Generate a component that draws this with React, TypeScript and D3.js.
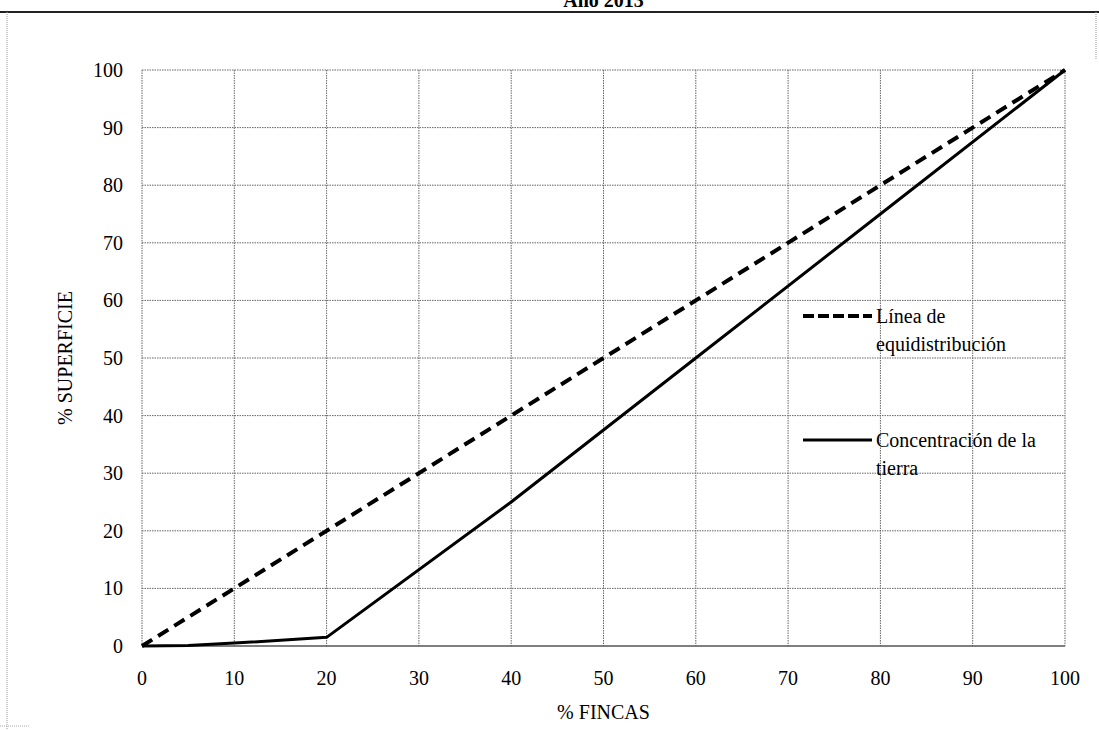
import { useEffect, useRef } from 'react';
import * as d3 from 'd3';

const fincas = [0, 5, 10, 20, 40, 60, 80, 100];
const superficie = [0, 0.1, 0.5, 1.5, 25, 50, 75, 100];
const equiX = [0, 100];
const equiY = [0, 100];
const ticks = [0, 10, 20, 30, 40, 50, 60, 70, 80, 90, 100];

const W = 1099;
const H = 730;
const FONT = '"Liberation Serif", "Times New Roman", serif';

export default function App() {
  const svgRef = useRef<SVGSVGElement>(null);

  useEffect(() => {
    if (!svgRef.current) return;
    const svg = d3.select(svgRef.current);
    svg.selectAll('*').remove();

    const m = { left: 142, right: 1065, top: 70, bottom: 646 };
    const x = d3.scaleLinear().domain([0, 100]).range([m.left, m.right]);
    const y = d3.scaleLinear().domain([0, 100]).range([m.bottom, m.top]);

    // outer frame (scan edges)
    svg.append('rect').attr('width', W).attr('height', H).attr('fill', '#fff');
    svg.append('line').attr('x1', 0).attr('x2', W).attr('y1', 12).attr('y2', 12)
      .attr('stroke', '#222').attr('stroke-width', 2);
    svg.append('line').attr('x1', 7).attr('x2', 7).attr('y1', 12).attr('y2', H)
      .attr('stroke', '#999').attr('stroke-dasharray', '1,1');
    svg.append('line').attr('x1', W - 3).attr('x2', W - 3).attr('y1', 12).attr('y2', 60)
      .attr('stroke', '#999').attr('stroke-dasharray', '1,1');
    svg.append('line').attr('x1', 0).attr('x2', 30).attr('y1', 726).attr('y2', 726)
      .attr('stroke', '#aaa').attr('stroke-dasharray', '1,1');

    // title (cut off at top, as in the scan)
    svg.append('text').attr('x', (m.left + m.right) / 2).attr('y', 7)
      .attr('text-anchor', 'middle').attr('font-family', FONT)
      .attr('font-weight', 'bold').attr('font-size', 20).text('Año 2013');

    // grid
    const grid = svg.append('g');
    grid.selectAll('.vg').data(ticks).enter().append('line')
      .attr('x1', (d) => x(d)).attr('x2', (d) => x(d))
      .attr('y1', m.top).attr('y2', m.bottom)
      .attr('stroke', '#666').attr('stroke-width', 1).attr('stroke-dasharray', '1.5,1');
    grid.selectAll('.hg').data(ticks.filter((d) => d > 0)).enter().append('line')
      .attr('x1', m.left).attr('x2', m.right)
      .attr('y1', (d) => y(d)).attr('y2', (d) => y(d))
      .attr('stroke', '#666').attr('stroke-width', 1).attr('stroke-dasharray', '1.5,1');
    svg.append('line').attr('x1', m.left).attr('x2', m.right)
      .attr('y1', y(0)).attr('y2', y(0)).attr('stroke', '#555').attr('stroke-width', 1.5);

    // tick labels
    svg.append('g').selectAll('text').data(ticks).enter().append('text')
      .attr('x', 123).attr('y', (d) => y(d)).attr('dy', '0.35em')
      .attr('text-anchor', 'end').attr('font-family', FONT).attr('font-size', 20)
      .text((d) => d);
    svg.append('g').selectAll('text').data(ticks).enter().append('text')
      .attr('x', (d) => x(d)).attr('y', 678).attr('dy', '0.35em')
      .attr('text-anchor', 'middle').attr('font-family', FONT).attr('font-size', 20)
      .text((d) => d);

    // axis titles
    svg.append('text').attr('x', (m.left + m.right) / 2).attr('y', 712).attr('dy', '0.35em')
      .attr('text-anchor', 'middle').attr('font-family', FONT).attr('font-size', 20)
      .text('% FINCAS');
    svg.append('text')
      .attr('transform', `translate(65,${(m.top + m.bottom) / 2}) rotate(-90)`)
      .attr('dy', '0.35em').attr('text-anchor', 'middle')
      .attr('font-family', FONT).attr('font-size', 20).text('% SUPERFICIE');

    const line = d3.line<[number, number]>().x((d) => x(d[0])).y((d) => y(d[1]));

    // lines
    svg.append('path')
      .attr('d', line(equiX.map((v, i) => [v, equiY[i]] as [number, number])))
      .attr('fill', 'none').attr('stroke', '#000').attr('stroke-width', 4)
      .attr('stroke-dasharray', '12,7');
    svg.append('path')
      .attr('d', line(fincas.map((v, i) => [v, superficie[i]] as [number, number])))
      .attr('fill', 'none').attr('stroke', '#000').attr('stroke-width', 3)
      .attr('stroke-linejoin', 'round');

    // legend
    const legend = [
      { lines: ['Línea de', 'equidistribución'], dash: '11,4', w: 4, y: 316 },
      { lines: ['Concentración de la', 'tierra'], dash: null, w: 3, y: 440 },
    ];
    legend.forEach((l) => {
      svg.append('line').attr('x1', 803).attr('x2', 872).attr('y1', l.y).attr('y2', l.y)
        .attr('stroke', '#000').attr('stroke-width', l.w)
        .attr('stroke-dasharray', l.dash ?? null);
      l.lines.forEach((t, i) => {
        svg.append('text').attr('x', 876).attr('y', l.y + i * 28).attr('dy', '0.35em')
          .attr('font-family', FONT).attr('font-size', 20).text(t);
      });
    });
  }, []);

  return (
    <div style={{ position: 'absolute', left: 0, top: 0 }}>
      <svg ref={svgRef} width={W} height={H} style={{ display: 'block' }} />
    </div>
  );
}
